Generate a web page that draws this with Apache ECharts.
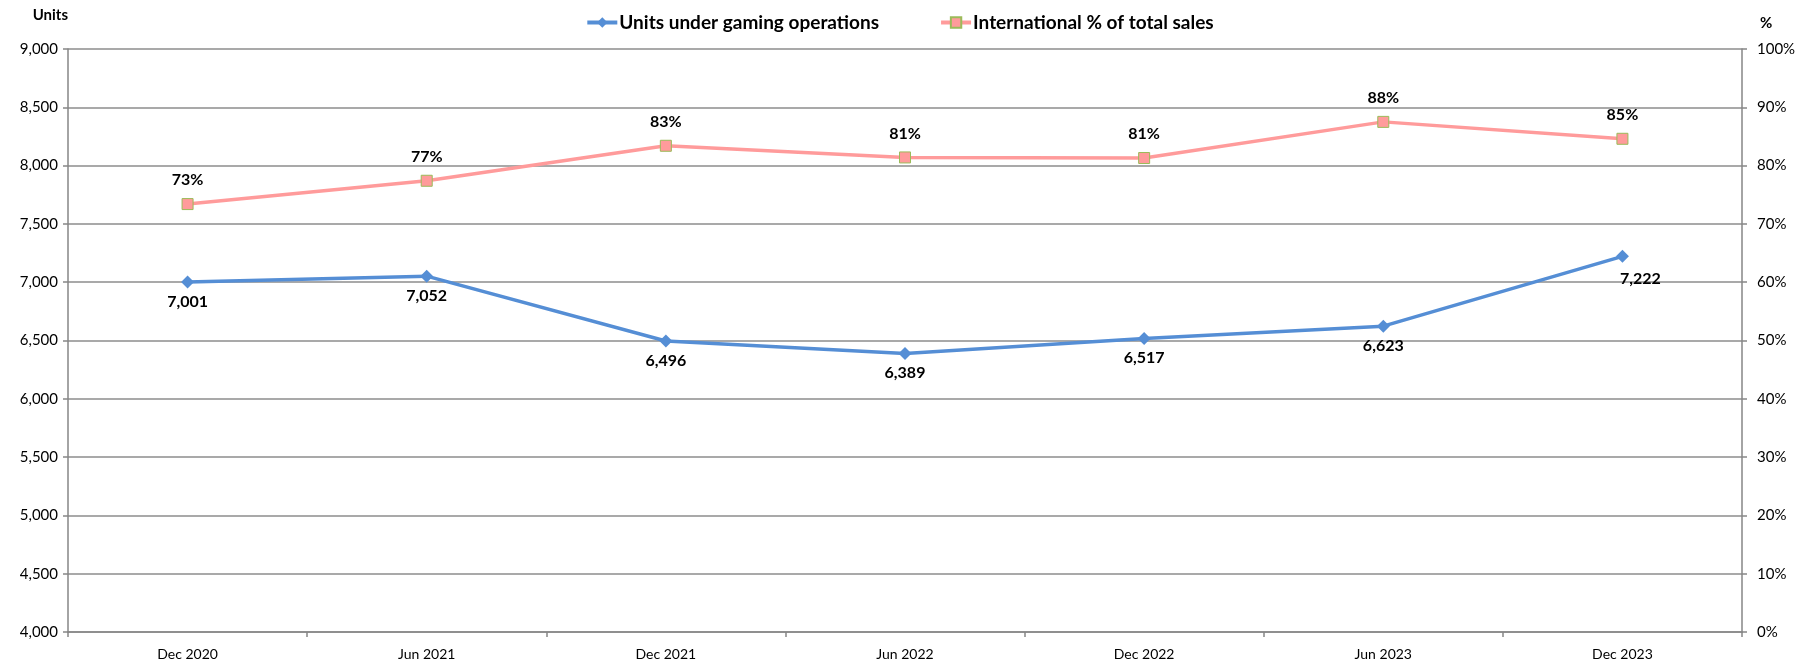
<!DOCTYPE html>
<html>
<head>
<meta charset="utf-8">
<script src="https://cdn.jsdelivr.net/npm/echarts@6/dist/echarts.min.js"></script>
<style>
html,body{margin:0;padding:0;background:#fff;}
#chart{width:1799px;height:663px;}
</style>
</head>
<body>
<div id="chart"></div>
<script>
const categories = ['Dec 2020','Jun 2021','Dec 2021','Jun 2022','Dec 2022','Jun 2023','Dec 2023'];
const unitsValues = [7001, 7052, 6496, 6389, 6517, 6623, 7222];
const intlPctValues = [73.4, 77.4, 83.4, 81.4, 81.3, 87.5, 84.6];
const seriesNames = ['Units under gaming operations', 'International % of total sales'];

const FONT = 'Lato, "Open Sans", sans-serif';
const chart = echarts.init(document.getElementById('chart'));

const unitsData = unitsValues.map((v, i) => {
  const d = { value: v };
  if (i === unitsValues.length - 1) {
    d.label = { position: 'bottom', offset: [18, 3] };
  }
  return d;
});

chart.setOption({
  animation: false,
  textStyle: { fontFamily: FONT },
  legend: {
    top: 8,
    left: 'center',
    itemGap: 60,
    itemWidth: 30,
    itemHeight: 13,
    lineStyle: { width: 4 },
    textStyle: { fontFamily: FONT, fontWeight: 'bold', fontSize: 19, color: '#000', padding: [0, 0, 0, -3] },
    data: seriesNames
  },
  grid: { left: 68, right: 57, top: 49, bottom: 31, containLabel: false },
  xAxis: {
    type: 'category',
    data: categories,
    boundaryGap: true,
    axisLine: { lineStyle: { color: '#868686', width: 1.5 } },
    axisTick: { show: true, alignWithLabel: false, length: 5, lineStyle: { color: '#868686', width: 1.5 } },
    axisLabel: { color: '#000', fontSize: 14, fontFamily: FONT, margin: 15 },
    splitLine: { show: false }
  },
  yAxis: [
    {
      type: 'value',
      name: 'Units',
      nameLocation: 'end',
      nameGap: 18,
      nameTextStyle: { fontWeight: 'bold', fontSize: 15, color: '#000', fontFamily: FONT, align: 'right', padding: [0, 0, 8, 0] },
      min: 4000, max: 9000, interval: 500,
      axisLine: { show: true, lineStyle: { color: '#868686', width: 1.5 } },
      axisTick: { show: true, length: 5, lineStyle: { color: '#868686', width: 1.5 } },
      axisLabel: { color: '#000', fontSize: 15, fontFamily: FONT, margin: 10,
        formatter: v => v.toLocaleString('en-US') },
      splitLine: { show: true, lineStyle: { color: '#8c8c8c', width: 1.5 } }
    },
    {
      type: 'value',
      name: '%',
      nameLocation: 'end',
      nameGap: 18,
      nameTextStyle: { fontWeight: 'bold', fontSize: 15, color: '#000', fontFamily: FONT, align: 'left', padding: [0, 0, 0, 18] },
      min: 0, max: 100, interval: 10,
      position: 'right',
      axisLine: { show: true, lineStyle: { color: '#868686', width: 1.5 } },
      axisTick: { show: true, length: 5, lineStyle: { color: '#868686', width: 1.5 } },
      axisLabel: { color: '#000', fontSize: 15, fontFamily: FONT, margin: 15, formatter: '{value}%' },
      splitLine: { show: false }
    }
  ],
  series: [
    {
      name: seriesNames[0],
      type: 'line',
      yAxisIndex: 0,
      data: unitsData,
      symbol: 'diamond',
      symbolSize: 13,
      itemStyle: { color: '#558ED5' },
      lineStyle: { color: '#558ED5', width: 3.5 },
      label: {
        show: true, position: 'bottom', distance: 5,
        color: '#000', fontWeight: 'bold', fontSize: 16, fontFamily: FONT,
        formatter: p => p.value.toLocaleString('en-US')
      },
      z: 3
    },
    {
      name: seriesNames[1],
      type: 'line',
      yAxisIndex: 1,
      data: intlPctValues,
      symbol: 'rect',
      symbolSize: 11,
      itemStyle: { color: '#FF9B9B', borderColor: '#9BBB59', borderWidth: 1 },
      lineStyle: { color: '#FF9B9B', width: 3.5 },
      label: {
        show: true, position: 'top', distance: 10,
        color: '#000', fontWeight: 'bold', fontSize: 16, fontFamily: FONT,
        formatter: p => Math.round(p.value) + '%'
      },
      z: 3
    }
  ]
});
</script>
</body>
</html>
